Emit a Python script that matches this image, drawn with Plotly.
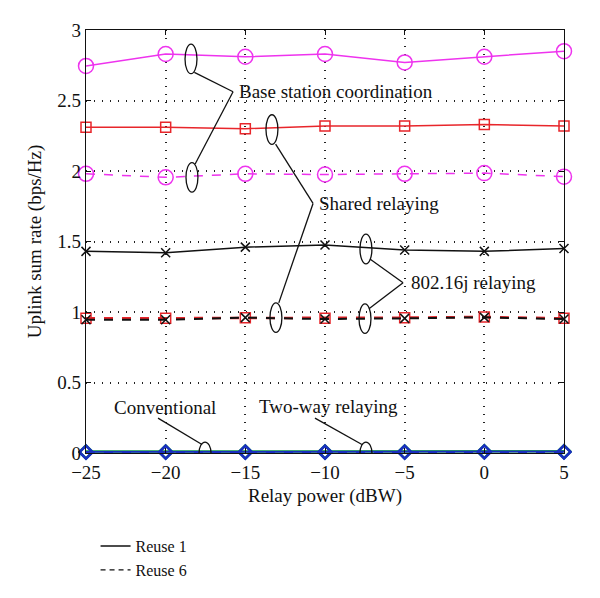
import plotly.graph_objects as go

relay_power = [-25, -20, -15, -10, -5, 0, 5]

bs_coord_r1 = [2.745, 2.83, 2.81, 2.83, 2.77, 2.81, 2.85]
shared_r1 = [2.31, 2.31, 2.30, 2.32, 2.32, 2.33, 2.32]
bs_coord_r6 = [1.98, 1.955, 1.98, 1.975, 1.98, 1.985, 1.96]
ieee_r1 = [1.43, 1.42, 1.46, 1.475, 1.44, 1.43, 1.45]
shared_r6 = [0.955, 0.955, 0.96, 0.955, 0.96, 0.965, 0.955]
ieee_r6 = [0.945, 0.945, 0.96, 0.95, 0.955, 0.962, 0.95]
conv_r1 = [0.01, 0.01, 0.01, 0.01, 0.01, 0.012, 0.012]
conv_r6 = [0.005, 0.005, 0.005, 0.005, 0.005, 0.006, 0.006]
twoway_r1 = [0.008, 0.008, 0.008, 0.008, 0.009, 0.01, 0.01]
twoway_r6 = [0.004, 0.004, 0.004, 0.004, 0.004, 0.005, 0.005]

x_ticks = [-25, -20, -15, -10, -5, 0, 5]
y_ticks = [0, 0.5, 1, 1.5, 2, 2.5, 3]
y_tick_labels = ["0", "0.5", "1", "1.5", "2", "2.5", "3"]

MAG = "#ee33ee"
RED = "#e8262b"
BLK = "#111111"
GRN = "#22cc22"
BLU = "#1a2fbf"
FONT = "Liberation Serif"

fig = go.Figure()

def add(y, color, dash, symbol, size, width=1.5, mw=1.5):
    fig.add_trace(go.Scatter(
        x=relay_power, y=y, mode="lines+markers",
        line=dict(color=color, width=width, dash=dash),
        marker=dict(symbol=symbol, size=size, color=color,
                    line=dict(color=color, width=mw)),
        showlegend=False, cliponaxis=False))

add(conv_r1, GRN, "solid", "diamond-open", 10, 2.5, 2)
add(conv_r6, GRN, "dash", "diamond-open", 10, 2.5, 2)
add(twoway_r1, BLU, "solid", "diamond-open", 10, 2, 2.2)
add(twoway_r6, BLU, "dash", "diamond-open", 10, 2, 2.2)
add(bs_coord_r1, MAG, "solid", "circle-open", 15)
add(bs_coord_r6, MAG, "dash", "circle-open", 15)
add(shared_r1, RED, "solid", "square-open", 10)
add(shared_r6, RED, "dash", "square-open", 10, 2.5)
add(ieee_r1, BLK, "solid", "x-thin-open", 9)
add(ieee_r6, BLK, "dash", "x-thin-open", 9, 2)

fig.add_trace(go.Scatter(x=[None], y=[None], mode="lines", name="Reuse 1",
                         line=dict(color=BLK, width=1.4, dash="solid")))
fig.add_trace(go.Scatter(x=[None], y=[None], mode="lines", name="Reuse 6",
                         line=dict(color=BLK, width=1.4, dash="5px,4px")))

shapes = []
def ell(cx, cy, w=0.75, h=0.21):
    shapes.append(dict(type="circle", xref="x", yref="y",
                       x0=cx - w / 2, x1=cx + w / 2, y0=cy - h / 2, y1=cy + h / 2,
                       line=dict(color=BLK, width=1.3)))
def seg(x0, y0, x1, y1):
    shapes.append(dict(type="line", xref="x", yref="y",
                       x0=x0, y0=y0, x1=x1, y1=y1,
                       line=dict(color=BLK, width=1.3)))

# Base station coordination
ell(-18.41, 2.795); ell(-18.35, 1.955)
seg(-18.2, 2.70, -15.77, 2.562); seg(-18.15, 2.05, -15.77, 2.562)
# Shared relaying
ell(-13.33, 2.294); ell(-13.08, 0.96)
seg(-13.1, 2.19, -10.75, 1.77); seg(-12.9, 1.065, -10.75, 1.77)
# 802.16j
ell(-7.43, 1.447); ell(-7.49, 0.953)
seg(-7.18, 1.376, -5.10, 1.207); seg(-7.24, 1.023, -5.10, 1.207)
# Conventional
ell(-17.53, 0.0, 0.75, 0.155)
seg(-20.48, 0.247, -17.72, 0.06)
# Two-way
ell(-7.43, 0.0, 0.75, 0.155)
seg(-10.63, 0.247, -7.68, 0.06)

annotations = [
    dict(x=-15.5, y=2.562, text="Base station coordination", xanchor="left"),
    dict(x=-10.5, y=1.77, text="Shared relaying", xanchor="left"),
    dict(x=-4.75, y=1.207, text="802.16j relaying", xanchor="left"),
    dict(x=-20.04, y=0.325, text="Conventional", xanchor="center"),
    dict(x=-9.81, y=0.33, text="Two-way relaying", xanchor="center"),
]
for a in annotations:
    a.update(xref="x", yref="y", showarrow=False, yanchor="middle",
             font=dict(family=FONT, size=19, color=BLK), bgcolor="rgba(255,255,255,0)")

fig.update_layout(
    width=600, height=598,
    margin=dict(l=78, r=44, t=20, b=153),
    paper_bgcolor="white", plot_bgcolor="white",
    font=dict(family=FONT, size=19, color=BLK),
    shapes=shapes, annotations=annotations,
    showlegend=True,
    legend=dict(x=0.02, y=-0.18, xanchor="left", yanchor="top",
                font=dict(family=FONT, size=16, color=BLK),
                bgcolor="rgba(0,0,0,0)", tracegroupgap=0, itemwidth=30),
    xaxis=dict(range=[-25, 5], tickvals=x_ticks, showline=True, linecolor=BLK,
               linewidth=1.3, mirror="ticks", ticks="inside", ticklen=5,
               tickcolor=BLK, showgrid=True, gridcolor="#222222", griddash="1px,7px",
               gridwidth=1.5, zeroline=False, tickfont=dict(size=19),
               ticklabelstandoff=2,
               title=dict(text="Relay power (dBW)", standoff=6,
                          font=dict(family=FONT, size=19))),
    yaxis=dict(range=[0, 3], tickvals=y_ticks, ticktext=y_tick_labels,
               showline=True, linecolor=BLK, linewidth=1.3, mirror="ticks",
               ticks="inside", ticklen=5, tickcolor=BLK, showgrid=True,
               gridcolor="#222222", griddash="1px,7px", gridwidth=1.5,
               zeroline=False, tickfont=dict(size=19),
               title=dict(text="Uplink sum rate (bps/Hz)", standoff=10,
                          font=dict(family=FONT, size=19))),
)

fig.write_html("out.html")
